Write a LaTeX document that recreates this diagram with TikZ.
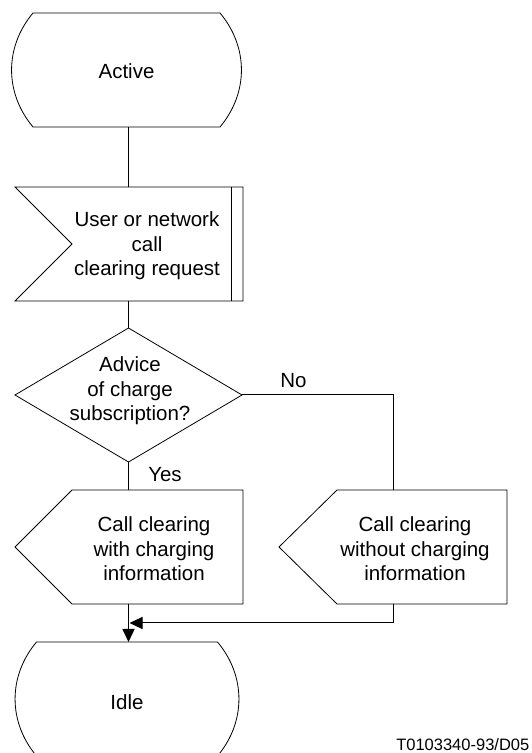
\documentclass[tikz,border=0pt]{standalone}
\usepackage{fontspec}
\setmainfont{Liberation Sans}
\usetikzlibrary{arrows.meta}
\begin{document}
\begin{tikzpicture}[x=1pt,y=1pt,
  shapebox/.style={rectangle,inner sep=0pt,outer sep=0pt,minimum height=114pt},
  txt/.style={align=center,inner sep=0pt,font=\fontsize{20.5}{24.5}\selectfont},
  border/.style={draw=black,line width=0.8pt,line join=miter},
  flow/.style={line width=1.6pt},
  thinline/.style={line width=1pt},
  arr/.style={-{Triangle[length=13pt,width=12pt]}}
]
\useasboundingbox (0,0) rectangle (531,753);

% shape frames (named, empty)
\node[shapebox,minimum width=228pt] (active) at (126.5,683) {};
\node[shapebox,minimum width=228pt] (input) at (129,509) {};
\node[shapebox,minimum width=227pt,minimum height=134pt] (dia) at (128.5,358) {};
\node[shapebox,minimum width=228pt] (outL) at (129,206) {};
\node[shapebox,minimum width=228pt] (outR) at (393,206) {};
\node[shapebox,minimum width=226pt] (idle) at (127,54) {};

% outlines
\draw[border] ([xshift=20.5pt]active.north west) -- ([xshift=-20.5pt]active.north east)
  to[bend left=40] ([xshift=-20.5pt]active.south east) -- ([xshift=20.5pt]active.south west)
  to[bend left=40] ([xshift=20.5pt]active.north west) -- cycle;
\draw[border] (input.north west) -- ([xshift=57pt]input.west) -- (input.south west)
  -- (input.south east) -- (input.north east) -- cycle;
\draw[border] ([xshift=-12pt]input.north east) -- ([xshift=-12pt]input.south east);
\draw[border] (dia.north) -- (dia.east) -- (dia.south) -- (dia.west) -- cycle;
\draw[border] (outL.west) -- ([xshift=57pt]outL.north west) -- (outL.north east)
  -- (outL.south east) -- ([xshift=57pt]outL.south west) -- cycle;
\draw[border] (outR.west) -- ([xshift=58pt]outR.north west) -- (outR.north east)
  -- (outR.south east) -- ([xshift=58pt]outR.south west) -- cycle;
\draw[border] ([xshift=22.5pt]idle.north west) -- ([xshift=-22.5pt]idle.north east)
  to[bend left=40] ([xshift=-22.5pt]idle.south east) -- ([xshift=22.5pt]idle.south west)
  to[bend left=40] ([xshift=22.5pt]idle.north west) -- cycle;

% texts
\node[txt] (activeT) at (126.5,682) {Active};
\node[txt] (inputT) at (147,507) {User or network\\call\\clearing request};
\node[txt] (diaT) at (130,362) {Advice\\of charge\\subscription?};
\node[txt] (outLT) at (154,204) {Call clearing\\with charging\\information};
\node[txt] (outRT) at (415,204) {Call clearing\\without charging\\information};
\node[txt] (idleT) at (127,51) {Idle};
\node[txt] (yes) at (165,278) {Yes};
\node[txt] (no) at (293.5,372) {No};
\node[inner sep=0pt,anchor=base east,font=\fontsize{16.5}{18}\selectfont] (tag) at (529.5,2.5) {T0103340-93/D05};

% connectors
\coordinate (join) at (128.5,130);
\draw[flow] (active.south -| dia.north) -- (input.north -| dia.north);
\draw[flow] (input.south -| dia.north) -- (dia.north);
\draw[flow] (dia.south) -- (outL.north -| dia.south);
\draw[thinline] (dia.east) -| (outR.north);
\draw[thinline,arr] (outR.south) |- ([xshift=1pt]join);
\draw[flow,arr] (outL.south -| dia.south) -- (idle.north -| dia.south);
\end{tikzpicture}
\end{document}
